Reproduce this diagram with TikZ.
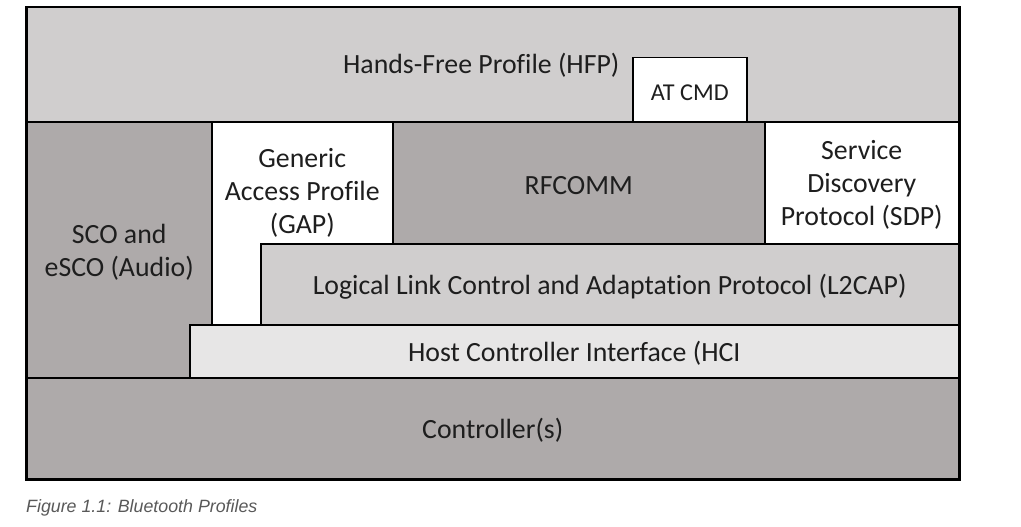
\documentclass[tikz,border=0pt]{standalone}
\usepackage{fontspec}
\setmainfont{Carlito}[Ligatures={NoCommon}]
\newfontfamily\capfont{Liberation Sans}
\definecolor{lightg}{HTML}{D0CECE}
\definecolor{darkg}{HTML}{AEAAAA}
\definecolor{paleg}{HTML}{E7E6E6}
\definecolor{txt}{HTML}{1E1E1E}
\definecolor{capc}{HTML}{595959}
\begin{document}
\begin{tikzpicture}[x=1pt,y=-1pt,
  box/.style={draw=black, line width=1.5pt, rectangle, inner sep=0pt, anchor=north west},
  lbl/.style={text=txt, align=center, font=\fontsize{27.8}{33}\selectfont, inner sep=0pt},
  boxtext/.style={label={[lbl, yshift=-2.5pt]center:#1}}]
\useasboundingbox (0,0) rectangle (1021,527);
\fill[white] (0,0) rectangle (1021,527);
% top: HFP
\node[box, fill=lightg, minimum width=932pt, minimum height=114pt,
  label={[lbl, xshift=-11.5pt, yshift=-1pt]center:Hands-Free Profile (HFP)}] (hfp) at (26,7) {};
\node[box, fill=white, minimum width=114pt, minimum height=64pt,
  label={[lbl, font=\fontsize{24.2}{28}\selectfont, yshift=-2.5pt]center:AT CMD}] (at) at (632,57) {};
% second row
\node[box, fill=darkg, minimum width=185pt, minimum height=256pt, boxtext={SCO and\\eSCO (Audio)}] (sco) at (26,121) {};
\node[box, fill=white, minimum width=181pt, minimum height=203pt,
  label={[lbl, yshift=30pt]center:Generic\\Access Profile\\(GAP)}] (gap) at (211,121) {};
\node[box, fill=darkg, minimum width=372pt, minimum height=122pt, boxtext={RFCOMM}] (rfc) at (392,121) {};
\node[box, fill=white, minimum width=194pt, minimum height=122pt, boxtext={Service\\Discovery\\Protocol (SDP)}] (sdp) at (764,121) {};
% L2CAP
\node[box, fill=lightg, minimum width=698pt, minimum height=81pt, boxtext={Logical Link Control and Adaptation Protocol (L2CAP)}] (l2) at (260,243) {};
% HCI
\node[box, fill=paleg, minimum width=769pt, minimum height=53pt, boxtext={Host Controller Interface (HCI}] (hci) at (189,324) {};
% Controllers
\node[box, fill=darkg, minimum width=932pt, minimum height=101pt, boxtext={Controller(s)}] (ctl) at (26,377) {};
% outer frame
\draw[line width=2pt] (hfp.north west) rectangle (ctl.south east);
% caption
\node[anchor=west, inner sep=0pt, text=capc, font=\capfont\itshape\fontsize{17.8}{20}\selectfont] (cap) at (26,508) {Figure 1.1: Bluetooth Profiles};
\end{tikzpicture}
\end{document}
